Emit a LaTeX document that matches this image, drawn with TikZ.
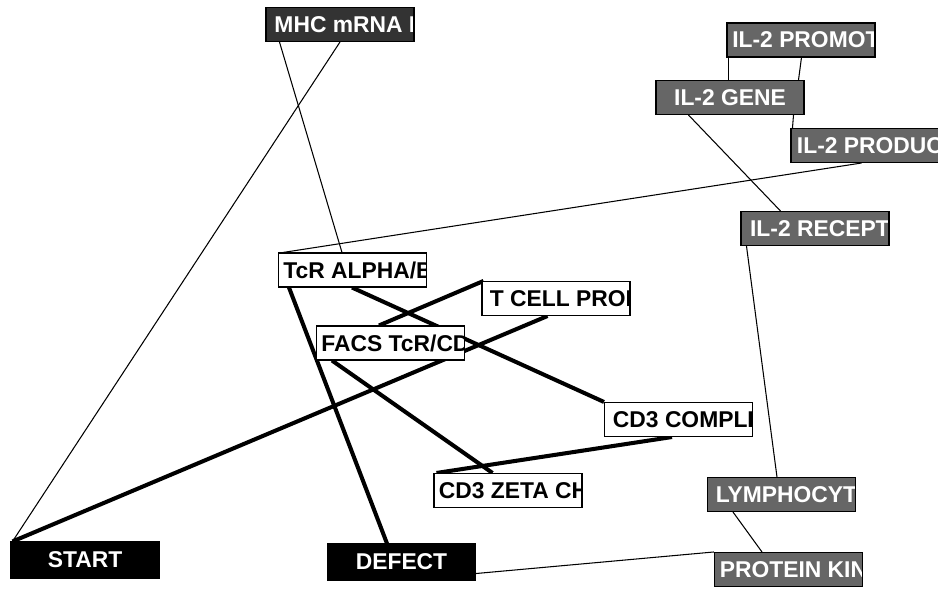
\documentclass[tikz,border=0pt]{standalone}
\usepackage{fontspec}
\setmainfont{Liberation Sans}
\usetikzlibrary{calc,backgrounds}

\definecolor{darkfill}{HTML}{333333}
\definecolor{grayfill}{HTML}{666666}

\tikzset{
	box/.style={draw=black, line width=0.6pt, minimum width=2.96cm, minimum height=0.68cm, inner sep=0pt, font=\fontsize{13}{15}\selectfont\bfseries},
	whitebox/.style={box, fill=white, text=black},
	graybox/.style={box, fill=grayfill, text=white},
	darkbox/.style={box, fill=darkfill, text=white},
	blackbox/.style={box, fill=black, text=white, minimum height=0.72cm},
	cut/.style 2 args={path picture={\node[anchor=west, inner sep=0pt, text=#2, font=\fontsize{13}{15}\selectfont\bfseries] at ([xshift=2.5pt]path picture bounding box.west) {#1};}},
	wire/.style={line width=0.6pt},
	bond/.style={line width=2.3pt},
}

\begin{document}
\begin{tikzpicture}[x=0.02cm, y=-0.02cm]

\useasboundingbox (0,0) rectangle (938,590);

% BOXES
\node[darkbox, cut={MHC mRNA I}{white}] (mhc) at (340,24.5) {};
\node[graybox, cut={IL-2 PROMOT}{white}] (promot) at (801,40) {};
\node[graybox] (gene) at (730,97.5) {IL-2 GENE};
\node[graybox, cut={IL-2 PRODUC}{white}] (produc) at (865,145.5) {};
\node[graybox, cut={IL-2 RECEPT}{white}] (recept) at (815,228.5) {};
\node[whitebox, cut={TcR ALPHA/B}{black}] (tcr) at (352.5,270) {};
\node[whitebox, cut={T CELL PROI}{black}] (tcell) at (556,298.5) {};
\node[whitebox, cut={FACS TcR/CD}{black}] (facs) at (390.5,343) {};
\node[whitebox, cut={CD3 COMPLI}{black}] (cdc) at (678.5,419.5) {};
\node[whitebox, cut={CD3 ZETA CH}{black}] (zeta) at (508,490.5) {};
\node[graybox, cut={LYMPHOCYT}{white}] (lymph) at (781.5,494.5) {};
\node[graybox, cut={PROTEIN KIN}{white}] (kinase) at (788.5,569.5) {};
\node[blackbox] (start) at (85,560) {START};
\node[blackbox] (defect) at (401.5,562) {DEFECT};

\begin{pgfonlayer}{background}
% THIN LINKS
\draw [wire] ($(mhc.south west)+(14,0)$) -- ($(tcr.north west)+(64,0)$);
\draw [wire] (mhc.south) -- ($(start.north west)+(2,0)$);
\draw [wire] ($(promot.south west)+(2,0)$) -- ($(gene.north west)+(73,0)$);
\draw [wire] ($(promot.south west)+(75,0)$) -- ($(gene.north east)+(-6,0)$);
\draw [wire] ($(gene.south east)+(-11,0)$) -- ($(produc.north west)+(2,0)$);
\draw [wire] ($(gene.south west)+(33,0)$) -- ($(recept.north west)+(40,0)$);
\draw [wire] ($(produc.south west)+(71,0)$) -- ($(tcr.north west)+(5,0)$);
\draw [wire] ($(recept.south west)+(6,0)$) -- ($(lymph.north west)+(70,0)$);
\draw [wire] ($(lymph.south west)+(26,0)$) -- ($(kinase.north west)+(48,0)$);
\draw [wire] (kinase.north west) -- ($(defect.south east)+(0,-7)$);

% THICK LINKS
\draw [bond] ($(tcr.south west)+(11,0)$) -- ($(defect.north west)+(60,0)$);
\draw [bond] ($(tcr.south west)+(74,0)$) -- (cdc.north west);
\draw [bond] ($(tcell.north west)+(2,0)$) -- ($(facs.north west)+(63,0)$);
\draw [bond] ($(tcell.south west)+(66,0)$) -- ($(start.north west)+(2,0)$);
\draw [bond] ($(facs.south west)+(16,0)$) -- ($(zeta.north west)+(59,0)$);
\draw [bond] ($(cdc.south west)+(68,0)$) -- ($(zeta.north west)+(3,0)$);
\end{pgfonlayer}

\end{tikzpicture}
\end{document}
